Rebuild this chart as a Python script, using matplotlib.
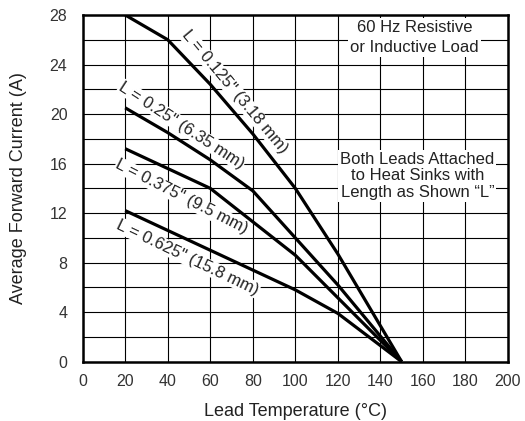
import matplotlib
matplotlib.use('Agg')
import matplotlib.pyplot as plt

plt.rcParams['font.family'] = ['Liberation Sans', 'DejaVu Sans']

# lead temperature (C) vs average forward current (A), one curve per lead length
t_125 = [20, 40, 60, 80, 100, 120, 150]
i_125 = [28, 26, 22.4, 18.4, 14, 8.7, 0]
t_250 = [20, 40, 60, 80, 100, 120, 150]
i_250 = [20.5, 18.5, 16.3, 13.8, 10, 6.2, 0]
t_375 = [20, 60, 80, 100, 150]
i_375 = [17.2, 14, 11.3, 8.6, 0]
t_625 = [20, 100, 120, 150]
i_625 = [12.2, 5.8, 3.9, 0]

curve_labels = ['L = 0.125" (3.18 mm)', 'L = 0.25" (6.35 mm)',
                'L = 0.375" (9.5 mm)', 'L = 0.625" (15.8 mm)']
x_ticks = list(range(0, 201, 20))
y_ticks = list(range(0, 29, 4))

fig = plt.figure(figsize=(5.25, 4.21), dpi=100)
ax = fig.add_axes([0.1575, 0.1409, 0.81, 0.8235])

ax.set_xlim(0, 200)
ax.set_ylim(0, 28)
ax.set_xticks(x_ticks)
ax.set_yticks(y_ticks)
ax.set_yticks(range(0, 29, 2), minor=True)
ax.tick_params(which='both', length=0, labelsize=11.5, colors='#333333')
ax.tick_params(axis='y', pad=11)
ax.tick_params(axis='x', pad=9)
ax.grid(True, which='both', color='black', linewidth=0.8, zorder=1)
ax.set_axisbelow(True)
for s in ax.spines.values():
    s.set_linewidth(1.8)

for t, i in [(t_125, i_125), (t_250, i_250), (t_375, i_375), (t_625, i_625)]:
    ax.plot(t, i, color='black', linewidth=2.3, zorder=3, solid_capstyle='butt')

# rotated curve labels
pos = [(71.5, 21.8, -50), (46.6, 19.1, -33), (46.6, 13.3, -27), (49.5, 8.4, -25.5)]
for lab, (x, y, r) in zip(curve_labels, pos):
    ax.text(x, y, lab, rotation=r, ha='center', va='center', fontsize=12,
            color='#222222', zorder=4, rotation_mode='anchor',
            bbox=dict(facecolor='white', edgecolor='none', pad=0.5))

ax.text(156, 26.2, '60 Hz Resistive\nor Inductive Load', ha='center', va='center',
        fontsize=12, color='#222222', linespacing=1.45, zorder=4,
        bbox=dict(facecolor='white', edgecolor='none', pad=1.5))
ax.text(157.4, 15.0, 'Both Leads Attached\nto Heat Sinks with\nLength as Shown \u201cL\u201d',
        ha='center', va='center', fontsize=12, color='#222222', linespacing=1.15,
        zorder=4, bbox=dict(facecolor='white', edgecolor='none', pad=1.5))

ax.set_xlabel('Lead Temperature (\u00b0C)', fontsize=13, color='#222222', labelpad=10)
ax.set_ylabel('Average Forward Current (A)', fontsize=13, color='#222222', labelpad=16)

fig.savefig('out.png', dpi=100)
